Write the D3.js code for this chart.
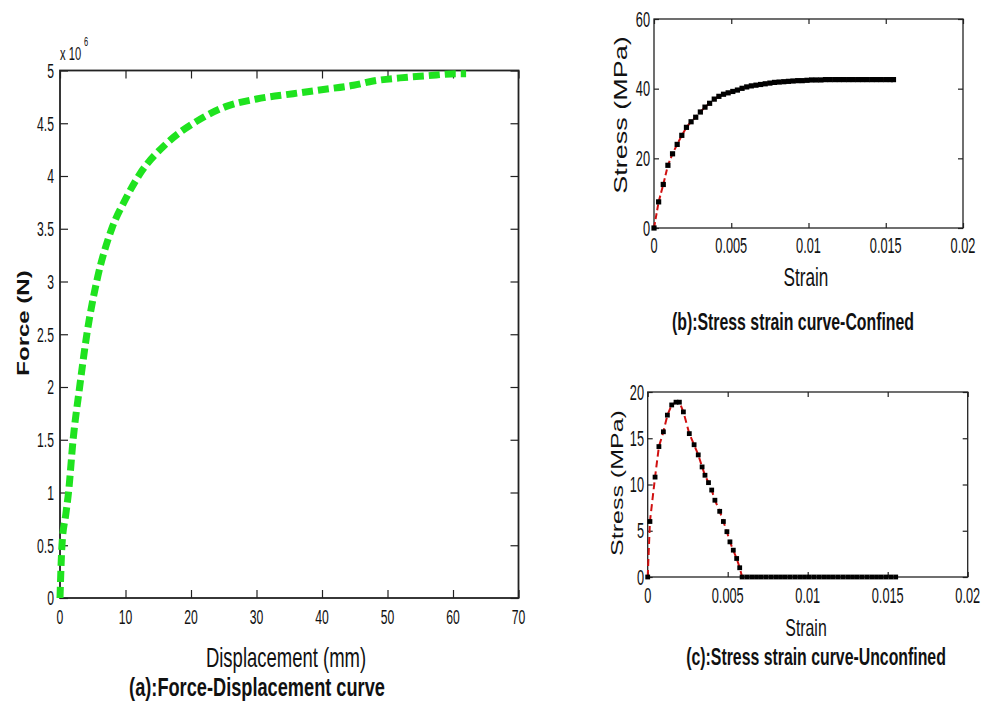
<!DOCTYPE html>
<html>
<head>
<meta charset="utf-8">
<title>Force-Displacement and stress strain curves</title>
<script src="https://cdn.jsdelivr.net/npm/d3@7/dist/d3.min.js"></script>
<style>
  *{margin:0;padding:0;}
  body{background:#fff;}
  text{font-family:"Liberation Sans",Arial,sans-serif;fill:#111;}
</style>
</head>
<body>
<svg id="fig" width="982" height="704"></svg>
<script>
// (a) force - displacement, force in 1e6 N
var dispMM  = [0, 0.3, 0.9, 1.3, 2.0, 3.0, 4.1, 5.6, 7.9, 10.0, 12.2, 16.3, 20.9, 25.4, 30.0, 35.6, 40.2, 44.8, 47.8, 51.9, 56.0, 60.6, 62.0];
var forceMN = [0, 0.5, 0.8, 1.0, 1.5, 2.0, 2.5, 3.0, 3.5, 3.78, 4.02, 4.31, 4.52, 4.66, 4.73, 4.78, 4.82, 4.86, 4.9, 4.93, 4.95, 4.97, 4.97];
var dispTicks  = [0, 10, 20, 30, 40, 50, 60, 70];
var forceTicks = [0, 0.5, 1, 1.5, 2, 2.5, 3, 3.5, 4, 4.5, 5];

// (b) confined
var strainB = [0, 0.0003, 0.0006, 0.0009, 0.0012, 0.0015, 0.0018, 0.0021, 0.0024, 0.0027, 0.003, 0.0033, 0.0036, 0.0039, 0.0042, 0.0045, 0.0048, 0.0051, 0.0054, 0.0057, 0.006, 0.0063, 0.0066, 0.0069, 0.0072, 0.0075, 0.0078, 0.0081, 0.0084, 0.0087, 0.009, 0.0093, 0.0096, 0.0099, 0.0102, 0.0105, 0.0108, 0.0111, 0.0114, 0.0117, 0.012, 0.0123, 0.0126, 0.0129, 0.0132, 0.0135, 0.0138, 0.0141, 0.0144, 0.0147, 0.015, 0.0153, 0.0155];
var stressB = [0, 7.5, 12.5, 18.0, 21.3, 24.0, 26.6, 28.9, 30.5, 31.8, 33.3, 34.7, 35.8, 37.0, 37.8, 38.4, 38.8, 39.2, 39.6, 40.1, 40.5, 40.8, 41.0, 41.2, 41.4, 41.6, 41.8, 41.9, 42.0, 42.1, 42.2, 42.3, 42.3, 42.4, 42.5, 42.5, 42.5, 42.6, 42.6, 42.6, 42.6, 42.6, 42.6, 42.6, 42.6, 42.6, 42.6, 42.6, 42.6, 42.6, 42.6, 42.6, 42.6];

// (c) unconfined
var strainC = [0, 0.00014, 0.00046, 0.0007, 0.00098, 0.00123, 0.0015, 0.00177, 0.00198, 0.00223, 0.0026, 0.0029, 0.00316, 0.0034, 0.00358, 0.0038, 0.004, 0.0042, 0.0045, 0.00473, 0.00495, 0.00514, 0.00535, 0.00556, 0.00575, 0.0059, 0.0062, 0.0065, 0.0068, 0.0071, 0.0074, 0.0077, 0.008, 0.0083, 0.0086, 0.0089, 0.0092, 0.0095, 0.0098, 0.0101, 0.0104, 0.0107, 0.011, 0.0113, 0.0116, 0.0119, 0.0122, 0.0125, 0.0128, 0.0131, 0.0134, 0.0137, 0.014, 0.0143, 0.0146, 0.0149, 0.0152, 0.0155];
var stressC = [0, 6.0, 10.8, 14.1, 15.7, 17.5, 18.6, 18.9, 18.9, 17.85, 15.5, 14.3, 13.2, 11.9, 11.0, 10.2, 9.4, 8.3, 7.1, 6.0, 4.9, 3.8, 2.9, 2.0, 1.0, 0, 0, 0, 0, 0, 0, 0, 0, 0, 0, 0, 0, 0, 0, 0, 0, 0, 0, 0, 0, 0, 0, 0, 0, 0, 0, 0, 0, 0, 0, 0, 0, 0];

var strainTicks  = [0, 0.005, 0.01, 0.015, 0.02];
var stressTicksB = [0, 20, 40, 60];
var stressTicksC = [0, 5, 10, 15, 20];

var svg = d3.select("#fig");

// the picture is squeezed sideways, so every text gets a horizontal scale
function txt(x, y, s, o){
  o = o || {};
  var t = svg.append("text")
     .attr("transform", "translate(" + x + "," + y + ") scale(" + (o.sx || 0.66) + ",1)" + (o.rot ? " rotate(-90)" : ""))
     .attr("text-anchor", o.anchor || "middle")
     .attr("dy", "0.35em")
     .style("font-size", o.size + "px")
     .text(s);
  if(o.bold) t.style("font-weight", "bold");
  return t;
}

function panel(p){
  var x = d3.scaleLinear().domain(p.xDom).range([p.x0, p.x1]);
  var y = d3.scaleLinear().domain(p.yDom).range([p.y1, p.y0]);
  var L = p.tick;
  var ax = svg.append("g").attr("class", "axes");
  ax.append("g").attr("transform", "translate(0," + p.y1 + ")")
    .call(d3.axisBottom(x).tickValues(p.xTicks).tickSize(-L).tickSizeOuter(0).tickFormat(""));
  ax.append("g").attr("transform", "translate(0," + p.y0 + ")")
    .call(d3.axisTop(x).tickValues(p.xTicks).tickSize(-L).tickSizeOuter(0).tickFormat(""));
  ax.append("g").attr("transform", "translate(" + p.x0 + ",0)")
    .call(d3.axisLeft(y).tickValues(p.yTicks).tickSize(-L).tickSizeOuter(0).tickFormat(""));
  ax.append("g").attr("transform", "translate(" + p.x1 + ",0)")
    .call(d3.axisRight(y).tickValues(p.yTicks).tickSize(-L).tickSizeOuter(0).tickFormat(""));
  ax.selectAll(".domain").remove();
  ax.selectAll(".tick line").attr("stroke", "#222").attr("stroke-width", 1.2);
  ax.append("rect").attr("x", p.x0).attr("y", p.y0)
    .attr("width", p.x1 - p.x0).attr("height", p.y1 - p.y0)
    .attr("fill", "none").attr("stroke", "#222").attr("stroke-width", p.frame);

  p.xTicks.forEach(function(v){ txt(x(v), p.xLabY, String(v), {size: p.tickSize, sx: 0.58}); });
  p.yTicks.forEach(function(v){ txt(p.yLabX, y(v), String(v), {size: p.tickSize, anchor: "end", sx: 0.58}); });
  return {x: x, y: y};
}

// ---------- (a)
var a = panel({x0: 60, x1: 518.5, y0: 70.5, y1: 598, xDom: [0, 70], yDom: [0, 5],
  xTicks: dispTicks, yTicks: forceTicks, tick: 8, frame: 1.8, tickSize: 21, xLabY: 617, yLabX: 54});
var ptsA = dispMM.map(function(d, i){ return [d, forceMN[i]]; });
svg.append("path").datum(ptsA)
   .attr("d", d3.line().x(function(d){ return a.x(d[0]); }).y(function(d){ return a.y(d[1]); }).curve(d3.curveMonotoneX))
   .attr("fill", "none").attr("stroke", "#1fe31f").attr("stroke-width", 7)
   .attr("stroke-dasharray", "11,5");
txt(60, 54, "x 10", {size: 18, anchor: "start", sx: 0.62});
txt(84, 42, "6", {size: 12, anchor: "start", sx: 0.62});
txt(286, 657, "Displacement (mm)", {size: 28});
txt(257, 687, "(a):Force-Displacement curve", {size: 26, bold: true, sx: 0.7});
txt(23, 323, "Force (N)", {size: 24, bold: true, rot: true, sx: 0.72});

// ---------- (b)
var b = panel({x0: 654, x1: 963, y0: 19, y1: 228, xDom: [0, 0.02], yDom: [0, 60],
  xTicks: strainTicks, yTicks: stressTicksB, tick: 5, frame: 1.3, tickSize: 22, xLabY: 245, yLabX: 650});
var ptsB = strainB.map(function(d, i){ return [d, stressB[i]]; });
svg.append("path").datum(ptsB)
   .attr("d", d3.line().x(function(d){ return b.x(d[0]); }).y(function(d){ return b.y(d[1]); }))
   .attr("fill", "none").attr("stroke", "#d01010").attr("stroke-width", 2).attr("stroke-dasharray", "6,3");
svg.append("g").selectAll("rect").data(ptsB).enter().append("rect")
   .attr("x", function(d){ return b.x(d[0]) - 2.6; })
   .attr("y", function(d){ return b.y(d[1]) - 2.6; })
   .attr("width", 5.2).attr("height", 5.2).attr("fill", "#000");
txt(806, 277, "Strain", {size: 26});
txt(621, 115, "Stress (MPa)", {size: 27, rot: true, sx: 0.66});
txt(793, 322, "(b):Stress strain curve-Confined", {size: 24, bold: true, sx: 0.66});

// ---------- (c)
var c = panel({x0: 647.7, x1: 967.7, y0: 392, y1: 577, xDom: [0, 0.02], yDom: [0, 20],
  xTicks: strainTicks, yTicks: stressTicksC, tick: 5, frame: 1.3, tickSize: 22, xLabY: 595, yLabX: 644});
var ptsC = strainC.map(function(d, i){ return [d, stressC[i]]; });
svg.append("path").datum(ptsC.slice(0, 26))
   .attr("d", d3.line().x(function(d){ return c.x(d[0]); }).y(function(d){ return c.y(d[1]); }))
   .attr("fill", "none").attr("stroke", "#d01010").attr("stroke-width", 2).attr("stroke-dasharray", "7,4");
svg.append("g").selectAll("rect").data(ptsC).enter().append("rect")
   .attr("x", function(d){ return c.x(d[0]) - 2.4; })
   .attr("y", function(d){ return c.y(d[1]) - 2.4; })
   .attr("width", 4.8).attr("height", 4.8).attr("fill", "#000");
txt(806, 628, "Strain", {size: 24});
txt(617, 483, "Stress (MPa)", {size: 25, rot: true, sx: 0.66});
txt(816, 657, "(c):Stress strain curve-Unconfined", {size: 24, bold: true, sx: 0.66});
</script>
</body>
</html>
